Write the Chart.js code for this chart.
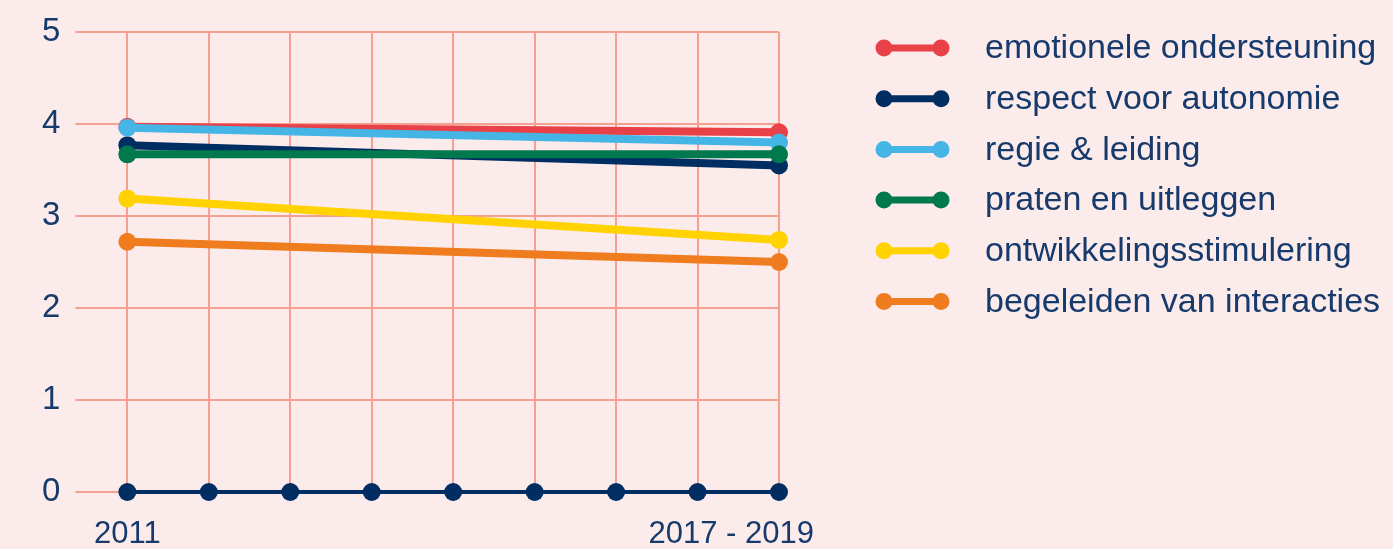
<!DOCTYPE html>
<html lang="nl">
<head>
<meta charset="utf-8">
<script src="https://cdn.jsdelivr.net/npm/chart.js@4.4.1/dist/chart.umd.min.js"></script>
<style>
  html, body { margin: 0; padding: 0; background: #fcebeb; }
  canvas { display: block; }
</style>
</head>
<body>
<canvas id="grafiek" width="1393" height="549"></canvas>
<script>
// gegevens
const jaren = ['2011', '', '', '', '', '', '', '', '2017 - 2019'];
const reeksen = [
  'emotionele ondersteuning',
  'respect voor autonomie',
  'regie & leiding',
  'praten en uitleggen',
  'ontwikkelingsstimulering',
  'begeleiden van interacties'
];
const waarden2011 = [3.97, 3.77, 3.96, 3.67, 3.19, 2.72];
const waarden2019 = [3.91, 3.55, 3.80, 3.67, 2.74, 2.50];
const nullijn = [0, 0, 0, 0, 0, 0, 0, 0, 0];
const yMin = 0, yMax = 5, yStap = 1;

const kleuren = ['#e84147', '#002d62', '#45b5e6', '#00794f', '#ffd200', '#ef7d1f'];
const volgorde = [4, 3, 2, 1, 5, 6]; // lager = bovenop
const tekstKleur = '#163a6b';
const rasterKleur = '#f4a192';
const lettertype = '"Liberation Sans", Arial, sans-serif';

Chart.defaults.font.family = lettertype;
Chart.defaults.color = tekstKleur;

const datasets = reeksen.map((naam, i) => {
  const data = jaren.map(() => null);
  data[0] = waarden2011[i];
  data[jaren.length - 1] = waarden2019[i];
  return {
    label: naam,
    data: data,
    borderColor: kleuren[i],
    backgroundColor: kleuren[i],
    borderWidth: 8,
    pointRadius: 9,
    pointHoverRadius: 9,
    pointBorderWidth: 0,
    spanGaps: true,
    clip: false,
    order: volgorde[i]
  };
});
datasets.push({
  label: 'nul',
  data: nullijn,
  borderColor: '#002d62',
  backgroundColor: '#002d62',
  borderWidth: 4,
  pointRadius: 9,
  pointHoverRadius: 9,
  pointBorderWidth: 0,
  clip: false,
  order: 7
});

// x-labels onder de as
const xLabels = {
  id: 'xLabels',
  afterDraw(chart) {
    const { ctx, chartArea, scales: { x } } = chart;
    ctx.save();
    ctx.font = '31px ' + lettertype;
    ctx.fillStyle = tekstKleur;
    ctx.textBaseline = 'alphabetic';
    const y = chartArea.bottom + 51;
    ctx.textAlign = 'center';
    ctx.fillText(jaren[0], x.getPixelForValue(0), y);
    ctx.textAlign = 'right';
    ctx.fillText(jaren[jaren.length - 1], x.getPixelForValue(jaren.length - 1) + 35, y);
    ctx.restore();
  }
};

// legenda rechts naast de grafiek
const legenda = {
  id: 'legenda',
  afterDraw(chart) {
    const { ctx, chartArea } = chart;
    const x0 = chartArea.right + 105;
    const x1 = x0 + 57;
    const tekstX = chartArea.right + 206;
    ctx.save();
    ctx.font = '34px ' + lettertype;
    ctx.textBaseline = 'middle';
    ctx.textAlign = 'left';
    reeksen.forEach((naam, i) => {
      const y = 48 + i * 50.7;
      ctx.strokeStyle = kleuren[i];
      ctx.fillStyle = kleuren[i];
      ctx.lineWidth = 7;
      ctx.beginPath(); ctx.moveTo(x0, y); ctx.lineTo(x1, y); ctx.stroke();
      ctx.beginPath(); ctx.arc(x0, y, 8.5, 0, Math.PI * 2); ctx.fill();
      ctx.beginPath(); ctx.arc(x1, y, 8.5, 0, Math.PI * 2); ctx.fill();
      ctx.fillStyle = tekstKleur;
      ctx.fillText(naam, tekstX, y + 1);
    });
    ctx.restore();
  }
};

new Chart(document.getElementById('grafiek'), {
  type: 'line',
  data: { labels: jaren, datasets: datasets },
  options: {
    responsive: false,
    animation: false,
    devicePixelRatio: 1,
    layout: { padding: { left: 27, right: 614, top: 32, bottom: 57 } },
    scales: {
      x: {
        grid: { color: rasterKleur, lineWidth: 2, drawTicks: false },
        border: { display: false },
        ticks: { display: false }
      },
      y: {
        min: yMin,
        max: yMax,
        grid: { color: rasterKleur, lineWidth: 2, tickLength: 52 },
        border: { display: false },
        ticks: { stepSize: yStap, padding: 15, font: { size: 33, lineHeight: 1 }, color: tekstKleur }
      }
    },
    plugins: {
      tooltip: { enabled: false },
      legend: { display: false }
    }
  },
  plugins: [xLabels, legenda]
});
</script>
</body>
</html>
